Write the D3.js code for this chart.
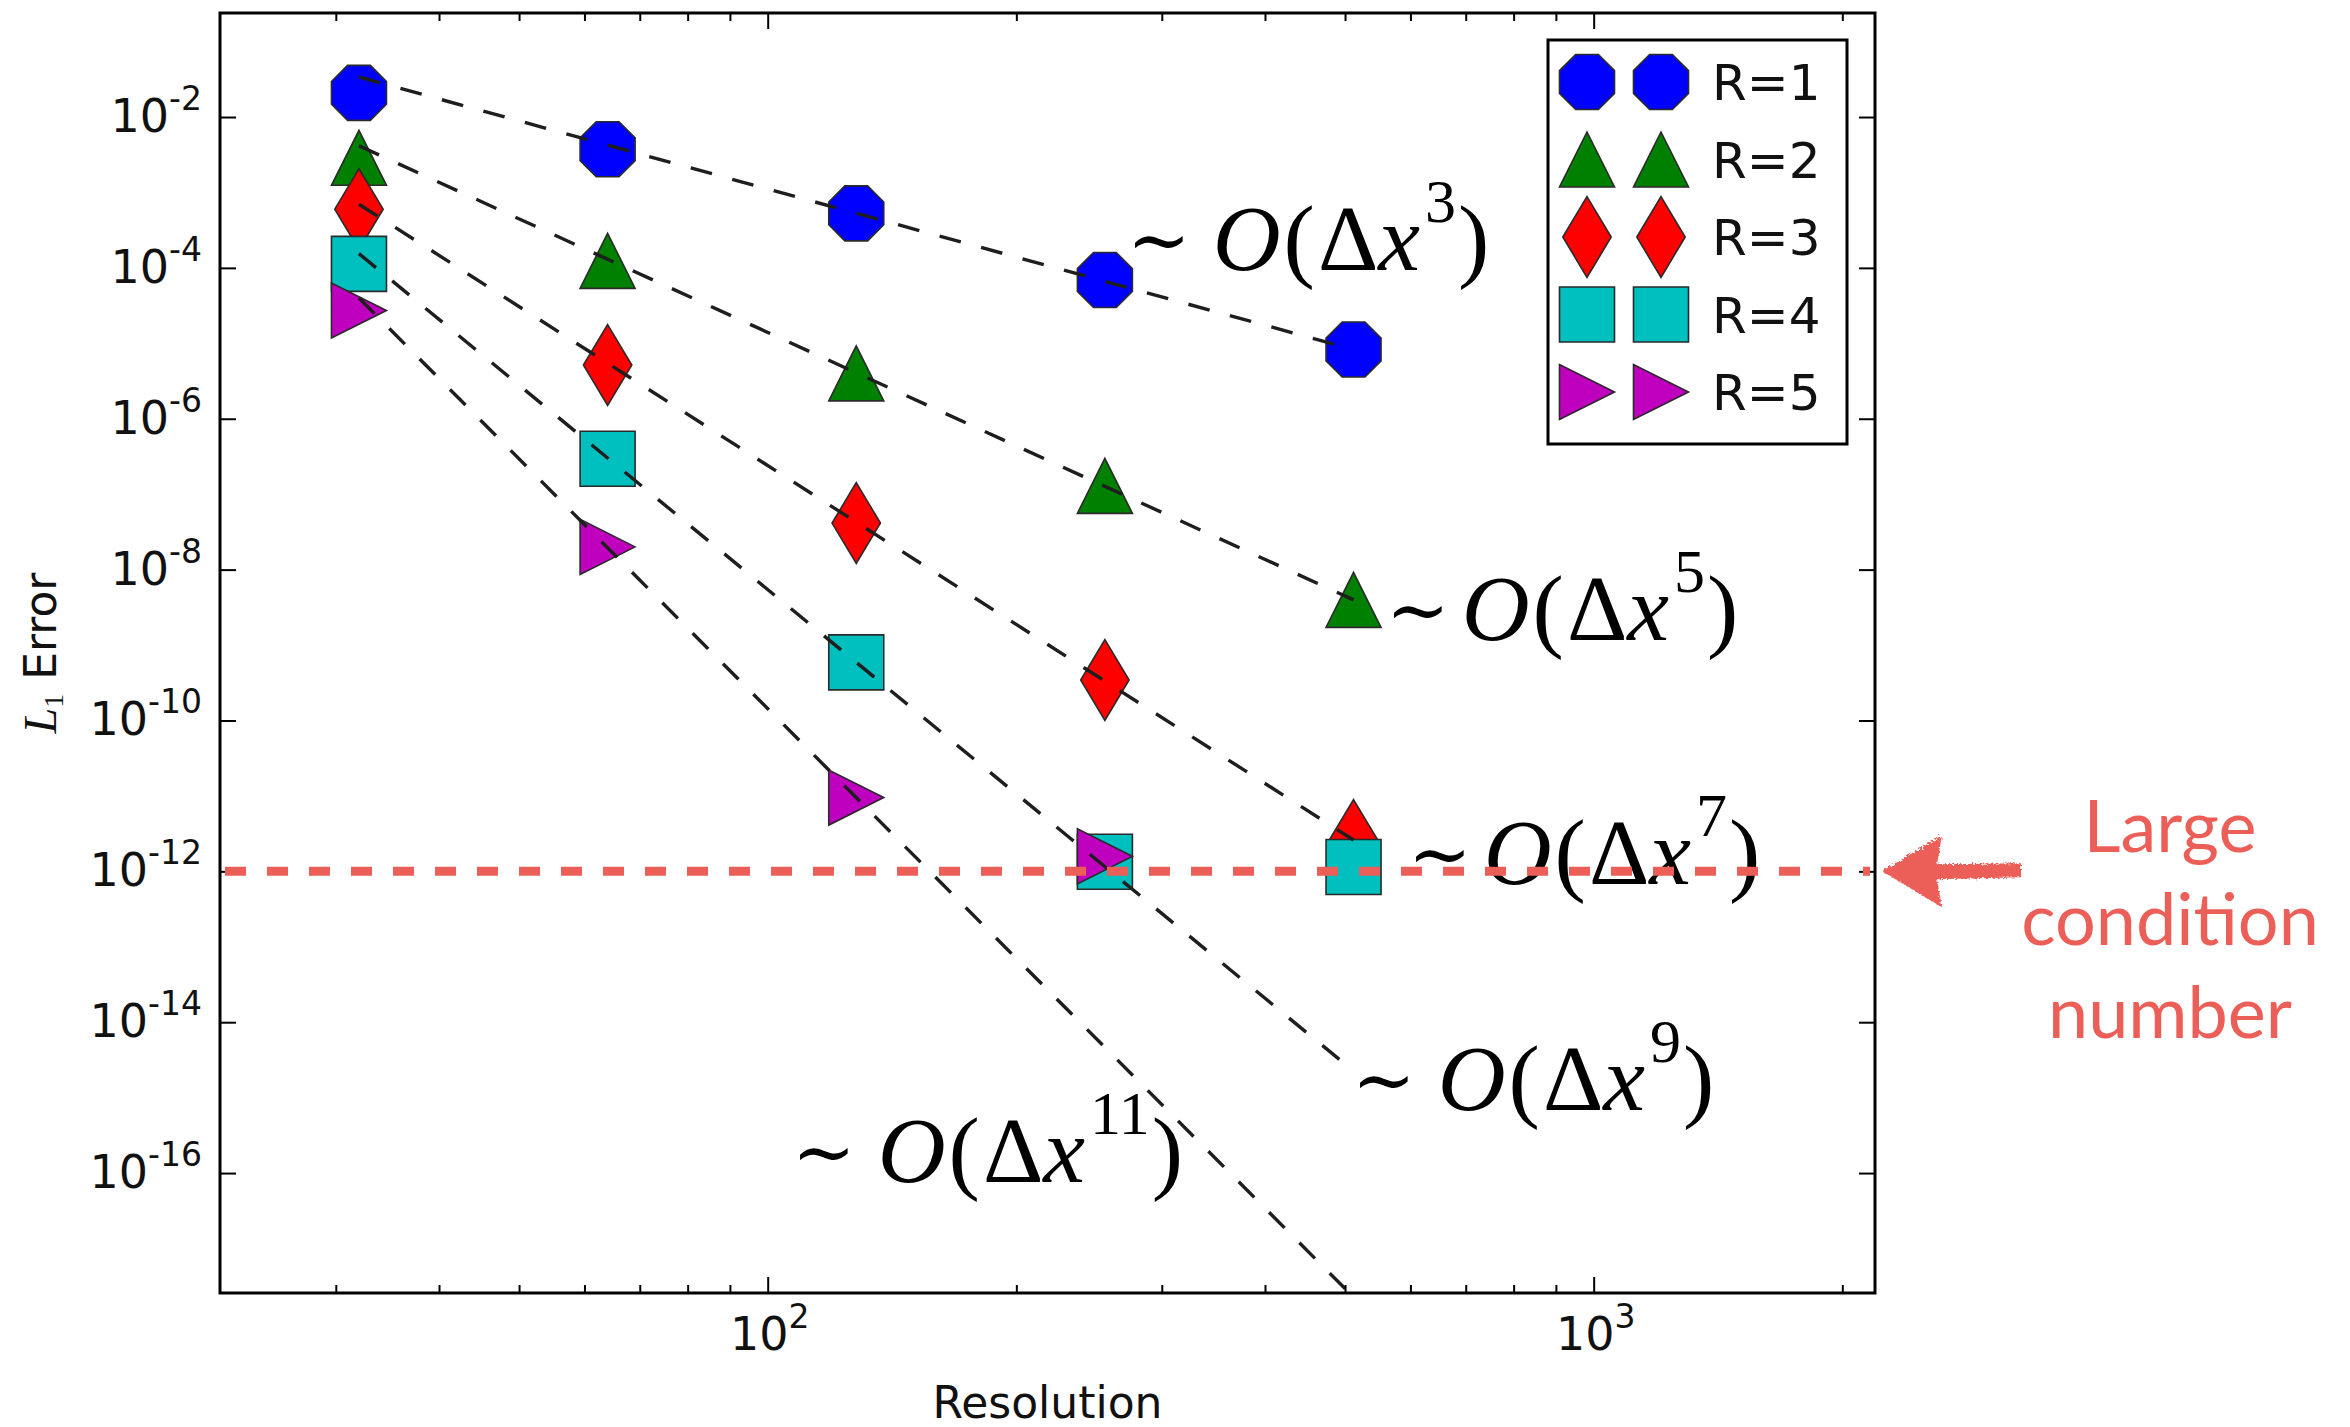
<!DOCTYPE html>
<html>
<head>
<meta charset="utf-8">
<script src="https://cdn.jsdelivr.net/npm/d3@7"></script>
<style>
  html, body { margin: 0; padding: 0; background: #ffffff; }
  svg { display: block; }
</style>
</head>
<body>
<svg id="chart" width="2350" height="1427"></svg>
<script>
// ---- data -------------------------------------------------------------
const resolution = [32, 64, 128, 256, 512];
const errR1 = [2.09e-2, 3.74e-3, 5.28e-4, 6.9e-5, 8.28e-6];
const errR2 = [2.88e-3, 1.24e-4, 4.0e-6, 1.29e-7, 3.97e-9];
const errR3 = [6.0e-4, 5.15e-6, 4.14e-8, 3.44e-10, 2.6e-12];
const errR4 = [1.13e-4, 2.95e-7, 5.9e-10, 1.34e-12, 1.14e-12];
const errR5 = [2.72e-5, 2.0e-8, 9.5e-12, 1.58e-12];
const seriesNames = ["R=1", "R=2", "R=3", "R=4", "R=5"];
// expected convergence order per series and the point each guide line passes through
const orders = [3, 5, 7, 9, 11];
const anchorIndex = [4, 4, 4, 2, 2];
const conditionFloor = 1e-12;
const yTickExponents = [-2, -4, -6, -8, -10, -12, -14, -16];
const xTickExponents = [2, 3];
const xMinorTicks = [30, 40, 50, 60, 70, 80, 90, 200, 300, 400, 500, 600, 700, 800, 900, 2000];
const calloutLines = ["Large", "condition", "number"];

// ---- layout -----------------------------------------------------------
const W = 2350, H = 1427;
const plot = { left: 220, right: 1875, top: 13, bottom: 1293 };
const svg = d3.select("#chart");

const x = d3.scaleLog().domain([Math.pow(10, 1.3369), Math.pow(10, 3.3406)]).range([plot.left, plot.right]);
const y = d3.scaleLog().domain([Math.pow(10, -0.621), Math.pow(10, -17.59)]).range([plot.top, plot.bottom]);

const series = [errR1, errR2, errR3, errR4, errR5].map((vals, i) => ({
  name: seriesNames[i],
  order: orders[i],
  anchor: anchorIndex[i],
  points: vals.map((v, j) => ({ x: resolution[j], y: v }))
}));

const styles = [
  { fill: "#0000ff", shape: "octagon" },
  { fill: "#008000", shape: "triUp" },
  { fill: "#ff0000", shape: "thinDiamond" },
  { fill: "#00bfbf", shape: "square" },
  { fill: "#bf00bf", shape: "triRight" }
];

// marker outlines, half-size 27.5 px
function markerPath(shape) {
  const s = 27.5;
  let pts;
  switch (shape) {
    case "octagon": {
      const r = s / Math.cos(Math.PI / 8);
      pts = d3.range(8).map(k => {
        const a = Math.PI / 8 + k * Math.PI / 4;
        return [r * Math.cos(a), r * Math.sin(a)];
      });
      break;
    }
    case "triUp": pts = [[0, -s], [s, s], [-s, s]]; break;
    case "thinDiamond": pts = [[0, -s * 1.47], [s * 0.88, 0], [0, s * 1.47], [-s * 0.88, 0]]; break;
    case "square": pts = [[-s, -s], [s, -s], [s, s], [-s, s]]; break;
    case "triRight": pts = [[s, 0], [-s, s], [-s, -s]]; break;
  }
  return "M" + pts.map(p => p[0].toFixed(2) + "," + p[1].toFixed(2)).join("L") + "Z";
}

const defs = svg.append("defs");
defs.append("clipPath").attr("id", "plotClip")
  .append("rect")
  .attr("x", plot.left).attr("y", plot.top)
  .attr("width", plot.right - plot.left).attr("height", plot.bottom - plot.top);
const rough = defs.append("filter").attr("id", "rough").attr("x", "-10%").attr("y", "-30%").attr("width", "120%").attr("height", "160%");
rough.append("feTurbulence").attr("type", "fractalNoise").attr("baseFrequency", 0.45).attr("numOctaves", 2).attr("seed", 7).attr("result", "noise");
rough.append("feDisplacementMap").attr("in", "SourceGraphic").attr("in2", "noise").attr("scale", 6);

svg.append("rect").attr("width", W).attr("height", H).attr("fill", "#ffffff");

// ---- markers ----------------------------------------------------------
const markerLayer = svg.append("g").attr("clip-path", "url(#plotClip)");
series.forEach((s, i) => {
  markerLayer.append("g")
    .selectAll("path")
    .data(s.points)
    .join("path")
    .attr("d", markerPath(styles[i].shape))
    .attr("transform", d => `translate(${x(d.x)},${y(d.y)})`)
    .attr("fill", styles[i].fill)
    .attr("stroke", "#2a2a2a")
    .attr("stroke-width", 1.6);
});

// ---- guide lines C * dx^-p through the anchor point --------------------
const guideLayer = svg.append("g").attr("clip-path", "url(#plotClip)");
const lineGen = d3.line().x(d => x(d.x)).y(d => y(d.y));
series.forEach(s => {
  const a = s.points[s.anchor];
  const ends = [resolution[0], resolution[resolution.length - 1]].map(r => ({
    x: r, y: a.y * Math.pow(r / a.x, -s.order)
  }));
  guideLayer.append("path")
    .attr("d", lineGen(ends))
    .attr("fill", "none")
    .attr("stroke", "#1e1e1e")
    .attr("stroke-width", 3.4)
    .attr("stroke-dasharray", "22,21");
});

// ---- axes ---------------------------------------------------------------
const axisLayer = svg.append("g");
function tickSet(axisFn, scale, values, size, translate) {
  const g = axisLayer.append("g").attr("transform", translate)
    .call(axisFn(scale).tickValues(values).tickSize(size).tickFormat(""));
  g.select(".domain").remove();
  g.selectAll(".tick line").attr("stroke", "#000").attr("stroke-width", 2);
  return g;
}
const xMajor = xTickExponents.map(e => Math.pow(10, e));
const yMajor = yTickExponents.map(e => Math.pow(10, e));
tickSet(d3.axisBottom, x, xMajor, -16, `translate(0,${plot.bottom})`);
tickSet(d3.axisBottom, x, xMinorTicks, -8, `translate(0,${plot.bottom})`);
tickSet(d3.axisTop, x, xMajor, -16, `translate(0,${plot.top})`);
tickSet(d3.axisTop, x, xMinorTicks, -8, `translate(0,${plot.top})`);
tickSet(d3.axisLeft, y, yMajor, -16, `translate(${plot.left},0)`);
tickSet(d3.axisRight, y, yMajor, -16, `translate(${plot.right},0)`);

axisLayer.append("rect")
  .attr("x", plot.left).attr("y", plot.top)
  .attr("width", plot.right - plot.left).attr("height", plot.bottom - plot.top)
  .attr("fill", "none").attr("stroke", "#000").attr("stroke-width", 3);

const tickFont = "DejaVu Sans";
// y tick labels: 10^e
yTickExponents.forEach(e => {
  const t = axisLayer.append("text")
    .attr("x", plot.left - 18).attr("y", y(Math.pow(10, e)) + 15)
    .attr("text-anchor", "end")
    .attr("font-family", tickFont).attr("font-size", 46).attr("fill", "#111");
  t.append("tspan").text("10");
  t.append("tspan").attr("font-size", 33).attr("dy", -22).text("-" + (-e));
});
// x tick labels
xTickExponents.forEach(e => {
  const t = axisLayer.append("text")
    .attr("x", x(Math.pow(10, e)) + 2).attr("y", plot.bottom + 57)
    .attr("text-anchor", "middle")
    .attr("font-family", tickFont).attr("font-size", 46).attr("fill", "#111");
  t.append("tspan").text("10");
  t.append("tspan").attr("font-size", 33).attr("dy", -22).text(String(e));
});

// axis titles
axisLayer.append("text")
  .attr("x", (plot.left + plot.right) / 2).attr("y", 1418)
  .attr("text-anchor", "middle")
  .attr("font-family", tickFont).attr("font-size", 44).attr("fill", "#111")
  .text("Resolution");
const yl = axisLayer.append("text")
  .attr("transform", `translate(56,${(plot.top + plot.bottom) / 2}) rotate(-90)`)
  .attr("text-anchor", "middle")
  .attr("font-family", tickFont).attr("font-size", 44).attr("fill", "#111");
yl.append("tspan").attr("font-family", "Liberation Serif").attr("font-style", "italic").attr("font-size", 46).text("L");
yl.append("tspan").attr("font-family", "Liberation Serif").attr("font-size", 28).attr("dy", 7).text("1");
yl.append("tspan").attr("dy", -7).text(" Error");

// ---- order labels ------------------------------------------------------
const orderLabelPos = [
  { left: 1127, base: 270, gap: 22 },
  { left: 1386, base: 640, gap: 12 },
  { left: 1408, base: 884, gap: 12 },
  { left: 1352, base: 1110, gap: 22 },
  { left: 792, base: 1182, gap: 22 }
];
orders.forEach((p, i) => {
  const pos = orderLabelPos[i];
  const t = svg.append("text")
    .attr("x", pos.left).attr("y", pos.base)
    .attr("font-family", "Liberation Serif").attr("font-size", 94).attr("fill", "#000");
  t.append("tspan").attr("font-family", "DejaVu Serif").attr("font-size", 76).attr("dy", -4).text("\u223C");
  t.append("tspan").attr("dx", pos.gap).attr("dy", 4).attr("font-style", "italic").text("O");
  t.append("tspan").attr("dx", 3).text("(");
  t.append("tspan").attr("dx", 3).text("\u0394");
  t.append("tspan").attr("font-style", "italic").text("x");
  t.append("tspan").attr("font-size", 62).attr("dx", 5).attr("dy", -48).text(String(p));
  t.append("tspan").attr("dx", 2).attr("dy", 48).text(")");
});

// ---- legend ------------------------------------------------------------
const legend = svg.append("g");
legend.append("rect")
  .attr("x", 1548).attr("y", 40).attr("width", 299).attr("height", 404)
  .attr("fill", "#fff").attr("stroke", "#000").attr("stroke-width", 3);
series.forEach((s, i) => {
  const cy = 82 + i * 77.5;
  [1587, 1661].forEach(cx => {
    legend.append("path")
      .attr("d", markerPath(styles[i].shape))
      .attr("transform", `translate(${cx},${cy})`)
      .attr("fill", styles[i].fill)
      .attr("stroke", "#2a2a2a").attr("stroke-width", 1.6);
  });
  legend.append("text")
    .attr("x", 1712).attr("y", cy + 18)
    .attr("font-family", tickFont).attr("font-size", 50).attr("fill", "#111")
    .text(s.name);
});

// ---- condition-number floor and callout ---------------------------------
const calloutColor = "#ec5f59";
svg.append("line")
  .attr("x1", 225).attr("x2", 1870)
  .attr("y1", y(conditionFloor)).attr("y2", y(conditionFloor))
  .attr("stroke", calloutColor).attr("stroke-width", 9)
  .attr("stroke-dasharray", "21,21");

const ay = y(conditionFloor);
svg.append("path")
  .attr("d", `M1882,${ay} L1942,${ay - 36} L1937,${ay - 7} L2021,${ay - 8} L2021,${ay + 6} L1937,${ay + 8} L1942,${ay + 36} Z`)
  .attr("fill", calloutColor)
  .attr("filter", "url(#rough)");

calloutLines.forEach((line, i) => {
  svg.append("text")
    .attr("x", 2170).attr("y", 852 + i * 93)
    .attr("text-anchor", "middle")
    .attr("font-family", "Lato").attr("font-size", 72)
    .attr("fill", calloutColor)
    .text(line);
});
</script>
</body>
</html>
